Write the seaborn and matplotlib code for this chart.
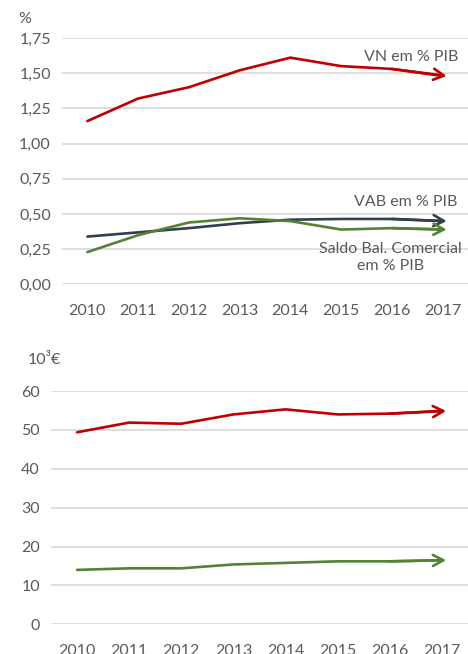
import matplotlib
matplotlib.use('Agg')
import matplotlib.pyplot as plt
import seaborn as sns
import pandas as pd

# data
years = [2010, 2011, 2012, 2013, 2014, 2015, 2016, 2017]
vn_pib = [1.16, 1.32, 1.40, 1.52, 1.61, 1.55, 1.53, 1.48]
vab_pib = [0.34, 0.37, 0.40, 0.435, 0.46, 0.465, 0.465, 0.45]
saldo_pib = [0.23, 0.35, 0.44, 0.47, 0.45, 0.39, 0.40, 0.39]
vn_keur = [49.4, 51.9, 51.6, 54.0, 55.3, 54.0, 54.2, 54.9]
saldo_keur = [14.0, 14.4, 14.4, 15.4, 15.8, 16.2, 16.2, 16.5]

RED = '#C00000'
NAVY = '#333F50'
GREEN = '#548235'
TXT = '#595959'
GRID = '#D9D9D9'
FS = 11.5

sns.set_style('white')
plt.rcParams['font.family'] = ['Lato', 'DejaVu Sans']

top = pd.DataFrame({'ano': years, 'VN': vn_pib, 'VAB': vab_pib, 'Saldo': saldo_pib})
bot = pd.DataFrame({'ano': years, 'VN': vn_keur, 'Saldo': saldo_keur})

fig = plt.figure(figsize=(4.68, 6.54), dpi=100)
ax1 = fig.add_axes([0.1325, 0.565, 0.8675, 0.377])
ax2 = fig.add_axes([0.109, 0.0454, 0.891, 0.3566])


def draw(ax, df, cols, colors, xpad):
    for c, col in zip(cols, colors):
        sns.lineplot(data=df, x='ano', y=c, ax=ax, color=col, linewidth=1.9,
                     clip_on=False, zorder=3)
        ax.annotate('', xy=(df['ano'].iloc[-1] + 0.08, df[c].iloc[-1]),
                    xytext=(df['ano'].iloc[-2], df[c].iloc[-2]),
                    arrowprops=dict(arrowstyle='->,head_length=0.75,head_width=0.4',
                                    color=col, lw=1.9, shrinkA=0, shrinkB=0),
                    annotation_clip=False, zorder=3)
    ax.set_xlim(2009.5, 2017.5)
    ax.set_xticks(years)
    ax.set_xlabel('')
    ax.set_ylabel('')
    ax.grid(axis='y', color=GRID, linewidth=1.2)
    ax.set_axisbelow(True)
    sns.despine(ax=ax, left=True, bottom=True)
    ax.tick_params(colors=TXT, labelsize=FS, length=0)
    ax.tick_params(axis='x', pad=xpad)
    ax.tick_params(axis='y', pad=8)


draw(ax1, top, ['VN', 'VAB', 'Saldo'], [RED, NAVY, GREEN], 14)
ax1.set_ylim(0, 1.75)
yt = [0, 0.25, 0.5, 0.75, 1.0, 1.25, 1.5, 1.75]
ax1.set_yticks(yt)
ax1.set_yticklabels([f'{v:.2f}'.replace('.', ',') for v in yt])

# x labels of the lower panel sit at the very bottom edge, as in the reference
draw(ax2, bot, ['VN', 'Saldo'], [RED, GREEN], 14)
ax2.set_ylim(0, 60)
ax2.set_yticks(range(0, 61, 10))

ax1.text(2016.38, 1.616, 'VN em % PIB', ha='center', va='center', color=TXT, fontsize=FS)
ax1.text(2016.28, 0.586, 'VAB em % PIB', ha='center', va='center', color=TXT, fontsize=FS)
ax1.text(2015.98, 0.19, 'Saldo Bal. Comercial\nem % PIB', ha='center', va='center',
         color=TXT, fontsize=FS, linespacing=1.25)

fig.text(25 / 468, 1 - 19 / 654, '%', ha='center', va='center', color=TXT, fontsize=FS)
fig.text(44 / 468, 1 - 360 / 654, '10³€', ha='center', va='center', color=TXT, fontsize=FS)

fig.savefig('out.png', dpi=100)
